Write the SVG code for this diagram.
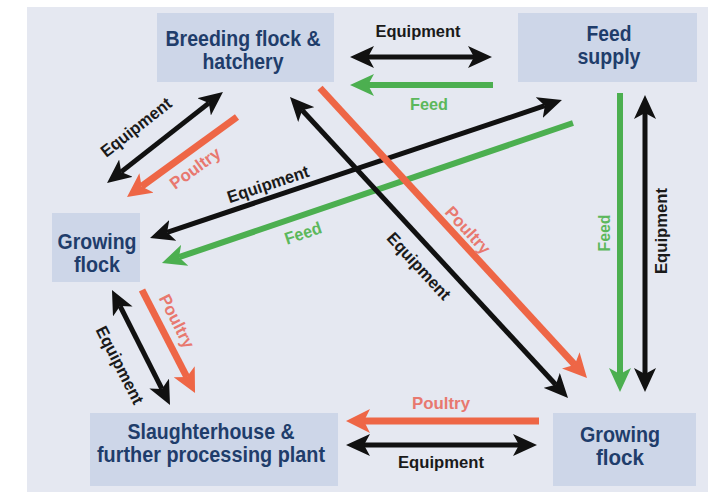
<svg xmlns="http://www.w3.org/2000/svg" width="720" height="492" viewBox="0 0 720 492">
<defs>
<style>
.node rect{fill:#cdd6e8}
.node text{font-family:"Liberation Sans",Arial,sans-serif;font-weight:bold;font-size:22px;fill:#1f3d6b;text-anchor:middle}
.lbl{font-family:"Liberation Sans",Arial,sans-serif;font-weight:bold;font-size:17px;text-anchor:middle}
.k{fill:#1a1a1a}
.p{fill:#e8786f}
.g{fill:#5cb85c}
.ab{fill:none;stroke:#111;stroke-width:5}
.ao{fill:none;stroke:#ee6646;stroke-width:7}
.ag{fill:none;stroke:#4caf50;stroke-width:6}
</style>
<marker id="mk" markerUnits="userSpaceOnUse" markerWidth="24" markerHeight="22" viewBox="0 0 24 22" refX="6" refY="11" orient="auto-start-reverse"><path d="M0,0 L24,11 L0,22 L6,11 z" fill="#111"/></marker>
<marker id="mo" markerUnits="userSpaceOnUse" markerWidth="24" markerHeight="24" viewBox="0 0 24 24" refX="6" refY="12" orient="auto"><path d="M0,0 L24,12 L0,24 L6,12 z" fill="#ee6646"/></marker>
<marker id="mg" markerUnits="userSpaceOnUse" markerWidth="24" markerHeight="22" viewBox="0 0 24 22" refX="6" refY="11" orient="auto"><path d="M0,0 L24,11 L0,22 L6,11 z" fill="#4caf50"/></marker>
</defs>
<rect x="0" y="0" width="720" height="492" fill="#ffffff"/>
<rect x="27" y="7" width="681" height="485" fill="#e5e8f1"/>

<g id="n-breeding" class="node"><rect x="157" y="13" width="177" height="69"/><text x="243" y="46" textLength="155" lengthAdjust="spacingAndGlyphs">Breeding flock &amp;</text><text x="243" y="69" textLength="81" lengthAdjust="spacingAndGlyphs">hatchery</text></g>
<g id="n-feed" class="node"><rect x="518" y="13" width="179" height="69"/><text x="609" y="41" textLength="45" lengthAdjust="spacingAndGlyphs">Feed</text><text x="609" y="64" textLength="63" lengthAdjust="spacingAndGlyphs">supply</text></g>
<g id="n-growing-left" class="node"><rect x="52" y="213" width="88" height="69"/><text x="97" y="249" textLength="79" lengthAdjust="spacingAndGlyphs">Growing</text><text x="97" y="272" textLength="46" lengthAdjust="spacingAndGlyphs">flock</text></g>
<g id="n-slaughter" class="node"><rect x="90" y="413" width="248" height="73"/><text x="211" y="439" textLength="167" lengthAdjust="spacingAndGlyphs">Slaughterhouse &amp;</text><text x="211" y="462" textLength="228" lengthAdjust="spacingAndGlyphs">further processing plant</text></g>
<g id="n-growing-right" class="node"><rect x="553" y="413" width="143" height="73"/><text x="620" y="442" textLength="80" lengthAdjust="spacingAndGlyphs">Growing</text><text x="620" y="465" textLength="48" lengthAdjust="spacingAndGlyphs">flock</text></g>

<g id="connectors">
<path class="ab" d="M368,57 L474,57" marker-start="url(#mk)" marker-end="url(#mk)"/>
<path class="ag" d="M493,85 L368,85" marker-end="url(#mg)"/>
<path class="ab" d="M208.8,103.1 L121.2,171.9" marker-start="url(#mk)" marker-end="url(#mk)"/>
<path class="ao" d="M237,117 L141.6,186.4" marker-end="url(#mo)"/>
<path class="ab" d="M544.9,105.7 L167.1,232.3" marker-start="url(#mk)" marker-end="url(#mk)"/>
<path class="ag" d="M573,123 L179,257.2" marker-end="url(#mg)"/>
<path class="ao" d="M320,88 L574.8,364.8" marker-end="url(#mo)"/>
<path class="ab" d="M302.2,110.2 L555.8,384.8" marker-start="url(#mk)" marker-end="url(#mk)"/>
<path class="ag" d="M620,93 L620,374" marker-end="url(#mg)"/>
<path class="ab" d="M645,113 L645,374" marker-start="url(#mk)" marker-end="url(#mk)"/>
<path class="ab" d="M120.1,306.1 L161.9,388.9" marker-start="url(#mk)" marker-end="url(#mk)"/>
<path class="ao" d="M142,290 L186.8,377" marker-end="url(#mo)"/>
<path class="ao" d="M539,421 L364,421" marker-end="url(#mo)"/>
<path class="ab" d="M364,445 L519,445" marker-start="url(#mk)" marker-end="url(#mk)"/>

<text class="lbl k" x="418" y="37" textLength="85" lengthAdjust="spacingAndGlyphs">Equipment</text>
<text class="lbl g" x="429" y="110" textLength="38" lengthAdjust="spacingAndGlyphs">Feed</text>
<text class="lbl k" transform="translate(136,127) rotate(-38)" y="6" textLength="85" lengthAdjust="spacingAndGlyphs">Equipment</text>
<text class="lbl p" transform="translate(195,168) rotate(-36)" y="6" textLength="58" lengthAdjust="spacingAndGlyphs">Poultry</text>
<text class="lbl k" transform="translate(268,184) rotate(-18.5)" y="6" textLength="85" lengthAdjust="spacingAndGlyphs">Equipment</text>
<text class="lbl g" transform="translate(303,233) rotate(-18.8)" y="6" textLength="38" lengthAdjust="spacingAndGlyphs">Feed</text>
<text class="lbl p" transform="translate(468,230) rotate(47.4)" y="6" textLength="58" lengthAdjust="spacingAndGlyphs">Poultry</text>
<text class="lbl k" transform="translate(419,266) rotate(47.3)" y="6" textLength="85" lengthAdjust="spacingAndGlyphs">Equipment</text>
<text class="lbl g" transform="translate(604,233) rotate(-90)" y="6" textLength="37" lengthAdjust="spacingAndGlyphs">Feed</text>
<text class="lbl k" transform="translate(661,231) rotate(-90)" y="6" textLength="86" lengthAdjust="spacingAndGlyphs">Equipment</text>
<text class="lbl k" transform="translate(120,365) rotate(63)" y="6" textLength="85" lengthAdjust="spacingAndGlyphs">Equipment</text>
<text class="lbl p" transform="translate(177,321) rotate(63)" y="6" textLength="58" lengthAdjust="spacingAndGlyphs">Poultry</text>
<text class="lbl p" x="441" y="409" textLength="58" lengthAdjust="spacingAndGlyphs">Poultry</text>
<text class="lbl k" x="441" y="468" textLength="86" lengthAdjust="spacingAndGlyphs">Equipment</text>
</g>
</svg>
